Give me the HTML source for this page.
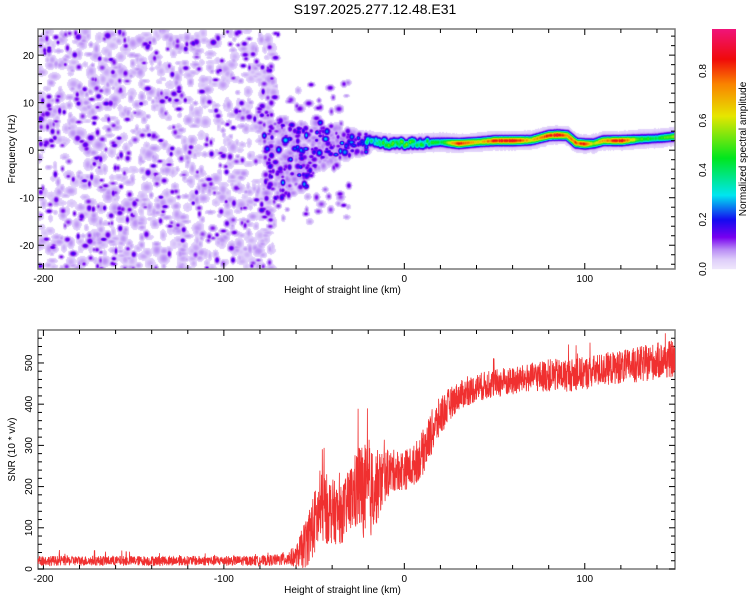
<!DOCTYPE html>
<html><head><meta charset="utf-8"><style>
body{margin:0;background:#fff;width:750px;height:600px;overflow:hidden;font-family:"Liberation Sans",sans-serif}
#wrap{position:relative;width:750px;height:600px}
svg{position:absolute;left:0;top:0}
canvas{position:absolute}
</style></head><body>
<div id="wrap">
<canvas id="spec" width="637" height="240" style="left:38px;top:29px"></canvas>
<svg id="svg" width="750" height="600"></svg>
</div>
<script>
// ---- data ----
const xTicks=[-200,-100,0,100];
const fTicks=[-20,-10,0,10,20];
const snrTicks=[0,100,200,300,400,500];
const cbTicks=[0,0.2,0.4,0.6,0.8];
// ridge (signal): height km, frequency Hz, amplitude
const ridgeH=[-20,-10,0,10,20,30,40,50,60,70,80,85,90,95,100,105,110,120,130,140,150];
const ridgeF=[2.2,1.6,1.4,1.6,1.8,1.5,1.8,2.1,2.1,2.2,3.2,3.3,3.2,1.6,1.4,1.5,2.1,2.1,2.4,2.6,3.0];
const ridgeA=[0.45,0.6,0.65,0.55,0.45,0.9,0.7,0.9,0.95,0.7,0.9,0.95,0.8,0.85,0.9,0.6,0.8,0.95,0.55,0.45,0.65];
// SNR envelope: height km, mean SNR, spread
const snrH=[-203,-80,-70,-60,-55,-50,-45,-40,-35,-30,-25,-20,-15,-10,-5,0,5,10,15,20,25,30,40,50,60,70,80,90,100,110,120,130,140,150];
const snrM=[20,20,22,30,60,110,150,140,130,170,200,180,200,230,240,240,250,280,330,370,400,420,440,450,455,465,470,470,475,485,490,495,505,510];
const snrS=[12,12,14,25,60,80,90,80,70,80,110,120,90,60,50,50,50,55,55,50,40,35,35,35,35,35,40,40,40,40,40,45,45,45];

// ---- axes ----
const X0=38,X1=675,xmin=-203,xmax=150;
const sx=v=>X0+(v-xmin)/(xmax-xmin)*(X1-X0);
const T0=29,T1=269,fmin=-25,fmax=25.5;
const sf=v=>T1-(v-fmin)/(fmax-fmin)*(T1-T0);
const B0=330,B1=569,smin=0,smax=580;
const ss=v=>B1-(v-smin)/(smax-smin)*(B1-B0);
const C0=29,C1=269,cmax=0.97;
const sc=v=>C1-v/cmax*(C1-C0);

let seed=12345;function rnd(){seed=(seed*1103515245+12345)%2147483648;return seed/2147483648;}
function interp(xs,ys,x){if(x<=xs[0])return ys[0];for(let i=1;i<xs.length;i++){if(x<=xs[i]){const t=(x-xs[i-1])/(xs[i]-xs[i-1]);return ys[i-1]+t*(ys[i]-ys[i-1]);}}return ys[ys.length-1];}
function cmap(v){
 const st=[[0,[240,232,252]],[0.04,[222,205,250]],[0.08,[185,140,245]],[0.13,[120,0,240]],[0.2,[20,10,240]],[0.3,[0,230,240]],[0.45,[0,230,30]],[0.62,[230,230,0]],[0.75,[250,130,0]],[0.85,[240,10,10]],[0.97,[240,20,120]]];
 if(v<=0)return st[0][1];for(let i=1;i<st.length;i++){if(v<=st[i][0]){const t=(v-st[i-1][0])/(st[i][0]-st[i-1][0]);return st[i-1][1].map((c,k)=>Math.round(c+t*(st[i][1][k]-c)));}}return st[st.length-1][1];}

// ---- spectrogram ----
const cv=document.getElementById('spec'),ctx=cv.getContext('2d');
const W=637,H=240,grid=new Float32Array(W*H);
function blob(cx,cy,rx,ry,a){for(let y=Math.max(0,Math.floor(cy-ry*2));y<Math.min(H,cy+ry*2);y++)for(let x=Math.max(0,Math.floor(cx-rx*2));x<Math.min(W,cx+rx*2);x++){const d=((x-cx)/rx)**2+((y-cy)/ry)**2;const v=a*Math.exp(-d);const i=y*W+x;if(v>grid[i])grid[i]=v;}}
// pale background noise left
for(let k=0;k<950;k++){const h=xmin+rnd()*(-72-xmin);const f=fmin+rnd()*(fmax-fmin);blob(sx(h)-X0,sf(f)-T0,2.5+rnd()*4,2.5+rnd()*4,0.045+rnd()*0.035);}
// stronger purple dots left
for(let k=0;k<380;k++){const h=xmin+rnd()*(-70-xmin);const f=fmin+rnd()*(fmax-fmin);blob(sx(h)-X0,sf(f)-T0,2+rnd()*2,2+rnd()*2,0.11+rnd()*0.07);}
// transition cluster
for(let k=0;k<260;k++){const h=-78+rnd()*58;const sp=Math.max(2,(-15-h)*0.16);const f=(rnd()-0.5)*2*sp+(h<-50?-1.5:1.5);blob(sx(h)-X0,sf(f)-T0,3+rnd()*3,3+rnd()*3,0.06+rnd()*0.03);}
for(let k=0;k<180;k++){const h=-78+rnd()*58;const sp=Math.max(2,(-15-h)*0.16);const f=(rnd()-0.5)*2*sp+(h<-50?-1.5:1.5);const a=0.12+rnd()*0.08+(rnd()<0.15?0.1:0);blob(sx(h)-X0,sf(f)-T0,2+rnd()*2,2+rnd()*2,a);}
// wings
for(let k=0;k<60;k++){const h=-75+rnd()*45;const f=(rnd()<0.5?1:-1)*(3+rnd()*12);blob(sx(h)-X0,sf(f)-T0,2+rnd()*2.5,2+rnd()*2.5,0.06+rnd()*0.1);}
// ridge
for(let h=-22;h<=150;h+=0.5){const f=interp(ridgeH,ridgeF,h);const a=interp(ridgeH,ridgeA,h);const early=h<15;const j=early?(rnd()-0.5)*1.0:0;
 blob(sx(h)-X0,sf(f)-T0,4,9,0.06+rnd()*0.03);
 blob(sx(h)-X0,sf(f+j)-T0,3,4,a*(early?0.45+rnd()*0.45:0.85+rnd()*0.15));}
const img=ctx.createImageData(W,H);
for(let i=0;i<W*H;i++){const v=grid[i];let c=[255,255,255];if(v>0.025)c=cmap(v);img.data[i*4]=c[0];img.data[i*4+1]=c[1];img.data[i*4+2]=c[2];img.data[i*4+3]=255;}
ctx.putImageData(img,0,0);

// ---- svg ----
const svg=document.getElementById('svg'),NS='http://www.w3.org/2000/svg';
function el(t,a,p){const e=document.createElementNS(NS,t);for(const k in a)e.setAttribute(k,a[k]);(p||svg).appendChild(e);return e;}
function txt(s,x,y,a){const e=el('text',Object.assign({x:x,y:y,'font-size':11,'font-family':'Liberation Sans, sans-serif',fill:'#000'},a||{}));e.textContent=s;return e;}
let t=txt('S197.2025.277.12.48.E31',375,14,{'text-anchor':'middle','font-size':14});


function frame(y0,y1,name){const r=el('rect',{x:X0,y:y0,width:X1-X0,height:y1-y0,fill:'none',stroke:'#777','stroke-width':1.5});
 for(let v=-200;v<=150;v+=20){const x=sx(v);const L=(v%100===0)?6:4;el('line',{x1:x,x2:x,y1:y1,y2:y1-L,stroke:'#000'});el('line',{x1:x,x2:x,y1:y0,y2:y0+L,stroke:'#000'});}
 xTicks.forEach(v=>{const e=txt(String(v),sx(v),y1+13,{'text-anchor':'middle','font-size':10});});
 const xl=txt('Height of straight line (km)',X0+(X1-X0)/2-14,y1+24,{'text-anchor':'middle','font-size':10});}
frame(T0,T1,'spectrogram-frame');frame(B0,B1,'snr-frame');
for(let v=-24;v<=24;v+=2){const y=sf(v);const L=v%10===0?6:4;el('line',{x1:X0,x2:X0+L,y1:y,y2:y,stroke:'#000'});el('line',{x1:X1,x2:X1-L,y1:y,y2:y,stroke:'#000'});}
fTicks.forEach(v=>{const e=txt(String(v),X0-4,sf(v)+4,{'text-anchor':'end','font-size':10});});
t=txt('Frequency (Hz)',0,0,{'text-anchor':'middle','font-size':10,transform:'translate(15,'+(T0+T1)/2+') rotate(-90)'});

for(let v=0;v<=575;v+=20){const y=ss(v);const L=v%100===0?6:4;el('line',{x1:X0,x2:X0+L,y1:y,y2:y,stroke:'#000'});el('line',{x1:X1,x2:X1-L,y1:y,y2:y,stroke:'#000'});}
snrTicks.forEach(v=>{const e=txt(String(v),0,0,{'text-anchor':'middle','font-size':10,transform:'translate('+(X0-6)+','+ss(v)+') rotate(-90)'});});
t=txt('SNR (10 * v/v)',0,0,{'text-anchor':'middle','font-size':10,transform:'translate(15,'+(B0+B1)/2+') rotate(-90)'});

// SNR line
let pts=[];for(let h=xmin;h<=xmax;h+=0.12){const m=interp(snrH,snrM,h),s=interp(snrH,snrS,h);let v=m+(rnd()-0.5)*2*s;if(rnd()<0.02)v+=s*1.2;v=Math.max(2,Math.min(smax-8,v));pts.push(sx(h).toFixed(1)+','+ss(v).toFixed(1));}
const pl=el('polyline',{points:pts.join(' '),fill:'none',stroke:'#f03030','stroke-width':0.8});


// colorbar
const cg=el('g',{});
for(let y=C0;y<C1;y++){const v=(C1-y)/(C1-C0)*cmax;const c=cmap(v);el('rect',{x:712,y:y,width:24,height:1.2,fill:'rgb('+c+')'},cg);}
cbTicks.forEach(v=>{const e=txt(v.toFixed(1),0,0,{'text-anchor':'middle','font-size':10,transform:'translate(706,'+sc(v)+') rotate(-90)'});});
t=txt('Normalized spectral amplitude',0,0,{'text-anchor':'middle','font-size':10,transform:'translate(746,'+(C0+C1)/2+') rotate(-90)'});
</script>
</body></html>
